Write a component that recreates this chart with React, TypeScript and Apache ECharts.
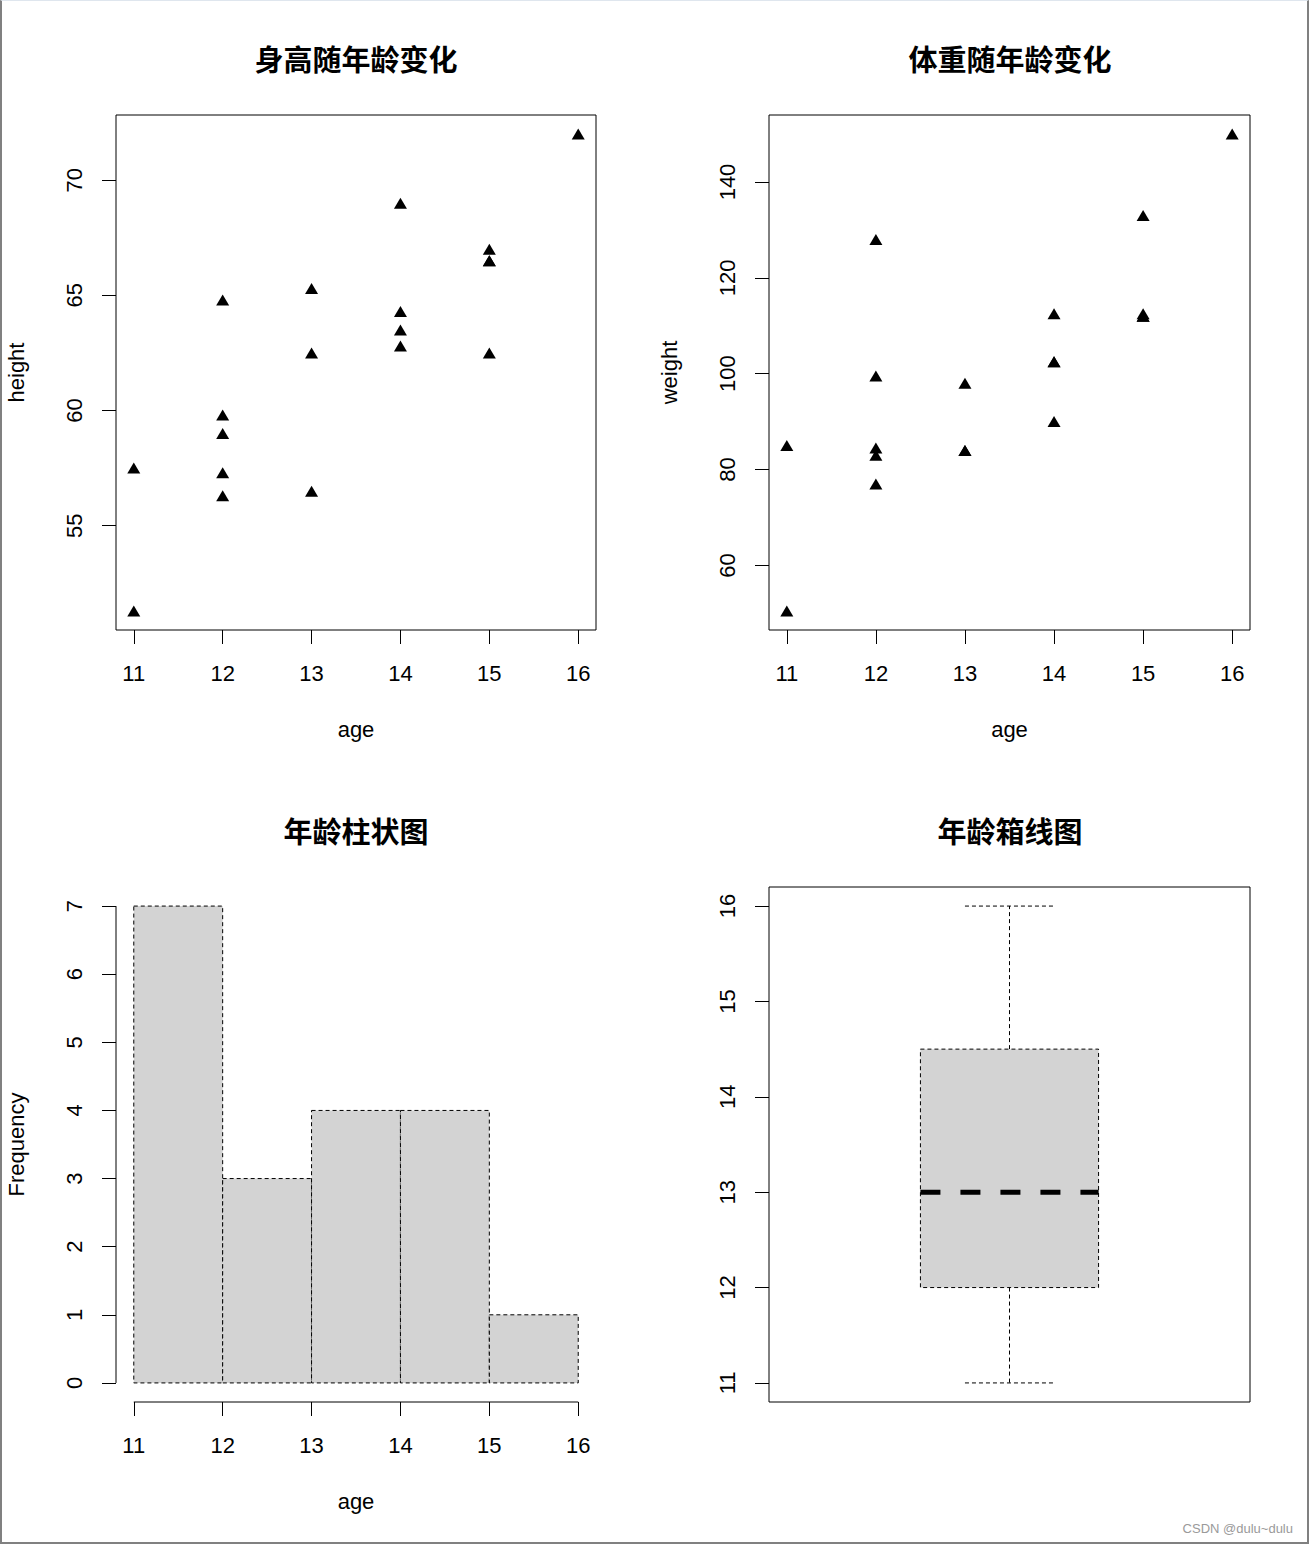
import React, { useEffect, useRef } from "react";
import * as echarts from "echarts";

// ---- data (SAS "class" data set) ----
const ages = [14, 13, 13, 14, 14, 12, 12, 15, 13, 12, 11, 14, 12, 15, 16, 12, 15, 11, 15];
const heights = [69.0, 56.5, 65.3, 62.8, 63.5, 57.3, 59.8, 62.5, 62.5, 59.0, 51.3, 64.3, 56.3, 66.5, 72.0, 64.8, 67.0, 57.5, 66.5];
const weights = [112.5, 84.0, 98.0, 102.5, 102.5, 83.0, 84.5, 112.5, 84.0, 99.5, 50.5, 90.0, 77.0, 112.0, 150.0, 128.0, 133.0, 85.0, 112.0];

// ---- tick labels ----
const ageTicks = [11, 12, 13, 14, 15, 16];
const heightTicks = [55, 60, 65, 70];
const weightTicks = [60, 80, 100, 120, 140];
const freqTicks = [0, 1, 2, 3, 4, 5, 6, 7];
const histBreaks = [11, 12, 13, 14, 15, 16];

// ---- titles / labels ----
const titles = ["身高随年龄变化", "体重随年龄变化", "年龄柱状图", "年龄箱线图"];

const FONT = "'Liberation Sans', Arial, sans-serif";
const CJK = "'Noto Sans CJK SC', sans-serif";

// R-style 4% range extension
const rExt = (lo: number, hi: number): [number, number] => {
  const d = (hi - lo) * 0.04;
  return [lo - d, hi + d];
};

// histogram counts (right-closed, include lowest)
const histCounts = histBreaks.slice(0, -1).map((b, i) => {
  const hi = histBreaks[i + 1];
  return ages.filter((a) => (i === 0 ? a >= b && a <= hi : a > b && a <= hi)).length;
});

// Tukey five-number summary
const fivenum = (arr: number[]) => {
  const s = [...arr].sort((a, b) => a - b);
  const n = s.length;
  const n4 = Math.floor((n + 3) / 2) / 2;
  const d = [1, n4, (n + 1) / 2, n + 1 - n4, n];
  return d.map((v) => 0.5 * (s[Math.floor(v) - 1] + s[Math.ceil(v) - 1]));
};
const boxStats = fivenum(ages);

const ageRange = rExt(Math.min(...ages), Math.max(...ages));
const heightRange = rExt(Math.min(...heights), Math.max(...heights));
const weightRange = rExt(Math.min(...weights), Math.max(...weights));
const freqRange = rExt(0, Math.max(...histCounts));
const boxXRange = rExt(0.5, 1.5);
const boxYRange = rExt(boxStats[0], boxStats[4]);

const tick = (vals: number[]) => ({
  show: true,
  inside: false,
  length: 14,
  customValues: vals,
  lineStyle: { color: "#000", width: 1 },
});
const label = (vals: number[], rotate: number, margin: number) => ({
  show: true,
  customValues: vals,
  rotate,
  margin,
  fontSize: 22,
  fontFamily: FONT,
  color: "#000",
});
const nameStyle = { fontSize: 22, fontFamily: FONT, color: "#000" };

const xAxisFor = (gridIndex: number, name: string) => ({
  type: "value",
  gridIndex,
  min: ageRange[0],
  max: ageRange[1],
  position: "bottom",
  axisLine: { show: false, onZero: false },
  axisTick: tick(ageTicks),
  axisLabel: label(ageTicks, 0, 32),
  splitLine: { show: false },
  name,
  nameLocation: "middle",
  nameGap: 88,
  nameTextStyle: nameStyle,
  nameMoveOverlap: false,
});

const yAxisFor = (gridIndex: number, range: number[], ticks: number[], name: string) => ({
  type: "value",
  gridIndex,
  min: range[0],
  max: range[1],
  position: "left",
  axisLine: { show: false, onZero: false },
  axisTick: tick(ticks),
  axisLabel: label(ticks, 90, 31),
  splitLine: { show: false },
  name,
  nameLocation: "middle",
  nameGap: 89,
  nameTextStyle: nameStyle,
  nameMoveOverlap: false,
});

const boxGrid = { show: true, borderColor: "#000", borderWidth: 1, backgroundColor: "transparent", outerBoundsMode: "none", containLabel: false };

const dash = [4, 3];

const option: any = {
  animation: false,
  backgroundColor: "#fff",
  grid: [
    { ...boxGrid, left: 116, top: 115, width: 480, height: 515 },
    { ...boxGrid, left: 769, top: 115, width: 481, height: 515 },
    { show: false, left: 116, top: 887, width: 480, height: 515, outerBoundsMode: "none", containLabel: false },
    { ...boxGrid, left: 769, top: 887, width: 481, height: 515 },
  ],
  xAxis: [
    xAxisFor(0, "age"),
    xAxisFor(1, "age"),
    xAxisFor(2, "age"),
    { type: "value", gridIndex: 3, min: boxXRange[0], max: boxXRange[1], show: false },
  ],
  yAxis: [
    yAxisFor(0, heightRange, heightTicks, "height"),
    yAxisFor(1, weightRange, weightTicks, "weight"),
    yAxisFor(2, freqRange, freqTicks, "Frequency"),
    yAxisFor(3, boxYRange, ageTicks, ""),
  ],
  graphic: [
    ...titles.map((t, i) => ({
      type: "text",
      x: i % 2 === 0 ? 356 : 1010,
      y: i < 2 ? 58 : 830,
      style: {
        text: t,
        fontSize: 29,
        fontWeight: "bold",
        fontFamily: CJK,
        fill: "#000",
        align: "center",
        verticalAlign: "middle",
      },
    })),
    {
      type: "text",
      x: 1293,
      y: 1528,
      style: {
        text: "CSDN @dulu~dulu",
        fontSize: 13,
        fontFamily: FONT,
        fill: "#9a9a9a",
        align: "right",
        verticalAlign: "middle",
      },
    },
  ],
  series: [
    {
      type: "scatter",
      xAxisIndex: 0,
      yAxisIndex: 0,
      symbol: "triangle",
      symbolSize: [13, 11],
      itemStyle: { color: "#000", opacity: 1 },
      data: ages.map((a, i) => [a, heights[i]]),
      silent: true,
    },
    {
      type: "scatter",
      xAxisIndex: 1,
      yAxisIndex: 1,
      symbol: "triangle",
      symbolSize: [13, 11],
      itemStyle: { color: "#000", opacity: 1 },
      data: ages.map((a, i) => [a, weights[i]]),
      silent: true,
    },
    {
      type: "custom",
      xAxisIndex: 2,
      yAxisIndex: 2,
      silent: true,
      data: histCounts.map((c, i) => [histBreaks[i], histBreaks[i + 1], c]),
      renderItem: (params: any, api: any) => {
        const p0 = api.coord([api.value(0), api.value(2)]);
        const p1 = api.coord([api.value(1), 0]);
        return {
          type: "rect",
          shape: { x: p0[0], y: p0[1], width: p1[0] - p0[0], height: p1[1] - p0[1] },
          style: { fill: "#d3d3d3", stroke: "#000", lineWidth: 1, lineDash: dash },
        };
      },
    },
    {
      // R-style axis lines for the histogram (span first..last tick only)
      type: "custom",
      xAxisIndex: 2,
      yAxisIndex: 2,
      silent: true,
      data: [[0, 0]],
      renderItem: (params: any, api: any) => {
        const xa = api.coord([ageTicks[0], freqRange[0]]);
        const xb = api.coord([ageTicks[ageTicks.length - 1], freqRange[0]]);
        const ya = api.coord([ageRange[0], freqTicks[0]]);
        const yb = api.coord([ageRange[0], freqTicks[freqTicks.length - 1]]);
        return {
          type: "group",
          children: [
            { type: "line", shape: { x1: xa[0], y1: xa[1], x2: xb[0], y2: xb[1] }, style: { stroke: "#000", lineWidth: 1 } },
            { type: "line", shape: { x1: ya[0], y1: ya[1], x2: yb[0], y2: yb[1] }, style: { stroke: "#000", lineWidth: 1 } },
          ],
        };
      },
    },
    {
      type: "custom",
      xAxisIndex: 3,
      yAxisIndex: 3,
      silent: true,
      data: [[1, ...boxStats]],
      renderItem: (params: any, api: any) => {
        const x = api.value(0);
        const mn = api.value(1), q1 = api.value(2), med = api.value(3), q3 = api.value(4), mx = api.value(5);
        const half = 0.2, cap = 0.1;
        const bTL = api.coord([x - half, q3]);
        const bBR = api.coord([x + half, q1]);
        const ln = (a: number[], b: number[], extra: any = {}) => {
          const p = api.coord(a), q = api.coord(b);
          return {
            type: "line",
            shape: { x1: p[0], y1: p[1], x2: q[0], y2: q[1] },
            style: { stroke: "#000", lineWidth: 1, lineDash: dash, ...extra },
          };
        };
        return {
          type: "group",
          children: [
            ln([x, q3], [x, mx]),
            ln([x, q1], [x, mn]),
            ln([x - cap, mx], [x + cap, mx]),
            ln([x - cap, mn], [x + cap, mn]),
            {
              type: "rect",
              shape: { x: bTL[0], y: bTL[1], width: bBR[0] - bTL[0], height: bBR[1] - bTL[1] },
              style: { fill: "#d3d3d3", stroke: "#000", lineWidth: 1, lineDash: dash },
            },
            ln([x - half, med], [x + half, med], { lineWidth: 5, lineDash: [20, 20] }),
          ],
        };
      },
    },
  ],
};

export default function App() {
  const ref = useRef<HTMLDivElement>(null);
  useEffect(() => {
    const chart = echarts.init(ref.current!, null, { renderer: "svg" });
    chart.setOption(option);
    return () => chart.dispose();
  }, []);
  return (
    <div style={{ position: "absolute", left: 0, top: 0, width: 1309, height: 1544, background: "#fff" }}>
      <div ref={ref} style={{ width: 1309, height: 1544 }} />
      <div
        style={{
          position: "absolute",
          left: 0,
          top: 0,
          width: 1309,
          height: 1544,
          boxSizing: "border-box",
          borderLeft: "2px solid #808080",
          borderRight: "2px solid #808080",
          borderBottom: "2px solid #808080",
          borderTop: "1px solid #dfe6ee",
          pointerEvents: "none",
        }}
      />
    </div>
  );
}
